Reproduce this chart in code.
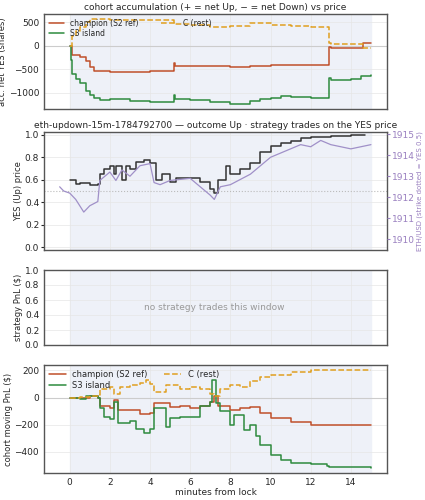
import numpy as np, pandas as pd, seaborn as sns, matplotlib
matplotlib.use("Agg")
import matplotlib.pyplot as plt

sns.set_style("white")
plt.rcParams['font.family'] = ['DejaVu Sans']
plt.rcParams['font.size'] = 6.5

# --- accumulation ---
acc_ch_t = [0,0.1,0.5,0.8,1,1.2,2,3,4,5.2,5.2,5.25,6,7,8,9,10,12.9,12.9,13,14,14.6,14.6,15]
acc_ch_v = [0,-200,-250,-330,-450,-530,-550,-560,-540,-520,-370,-430,-420,-430,-450,-420,-400,-380,-30,-40,-40,-30,50,50]
acc_s3_t = [0,0.05,0.1,0.3,0.5,0.8,1,1.2,1.5,2,3,4,5.2,5.2,5.25,6,7,8,8.5,9,9.5,10,10.5,11,12,12.9,12.9,13,14,14.5,15]
acc_s3_v = [0,-300,-600,-700,-800,-950,-1050,-1100,-1150,-1130,-1170,-1200,-1200,-1050,-1130,-1150,-1200,-1230,-1240,-1180,-1120,-1100,-1060,-1090,-1100,-1080,-680,-720,-700,-650,-630]
acc_c_t = [0,0.1,0.3,0.5,0.8,1,1.5,2,3,4,5.2,5.2,6,7,8,9,10,11,12,12.9,12.9,13,14,14.6,14.6,15]
acc_c_v = [0,200,300,400,500,560,570,550,550,540,520,450,430,400,420,470,440,420,400,400,50,40,40,30,-40,-50]

# --- price ---
yes_t = [0,0.3,0.5,1,1.4,1.5,1.7,2,2.2,2.3,2.6,2.8,3,3.3,3.7,4,4.3,4.6,5,5.3,6,6.5,7,7.2,7.4,7.8,8,8.5,9,9.5,10,10.5,11,11.5,12,13,14,14.7]
yes_v = [0.6,0.56,0.57,0.55,0.56,0.65,0.7,0.72,0.65,0.72,0.6,0.72,0.7,0.76,0.78,0.75,0.6,0.65,0.58,0.62,0.62,0.58,0.52,0.48,0.6,0.72,0.65,0.7,0.75,0.85,0.9,0.93,0.95,0.97,0.98,0.99,1.0,1.0]
eth_t = [-0.5,-0.3,0,0.3,0.7,1,1.4,1.5,2,2.3,2.6,3,3.5,4,4.2,4.5,5,6,6.5,7,7.2,7.5,8,9,9.5,10,11,11.5,12,12.5,13,13.5,14,14.5,15]
eth_v = [1912.5,1912.3,1912.2,1911.9,1911.3,1911.6,1911.8,1912.8,1913.2,1912.8,1913.3,1913.0,1913.5,1913.6,1912.7,1912.6,1912.8,1912.9,1912.5,1912.1,1911.9,1912.5,1912.6,1913.1,1913.5,1913.9,1914.3,1914.5,1914.4,1914.7,1914.5,1914.4,1914.3,1914.4,1914.5]

# --- pnl ---
pnl_ch_t = [0,0.5,1,1.4,1.5,2,2.2,2.4,3,3.5,4,4.2,5,5.5,6,6.5,7,7.2,7.4,8,8.5,9,9.5,10,11,12,15]
pnl_ch_v = [0,-5,10,0,-60,-80,-20,-90,-90,-120,-110,-40,-70,-60,-80,-60,-30,10,-60,-90,-80,-70,-110,-150,-180,-200,-205]
pnl_s3_t = [0,0.5,0.8,1.4,1.5,1.7,2,2.2,2.4,3,3.3,3.7,4,4.2,4.5,4.8,5,5.5,6,6.5,7,7.1,7.3,7.5,8,8.2,8.6,8.7,9,9.3,9.5,10,10.5,11,12,12.8,12.9,15]
pnl_s3_v = [0,-10,15,0,-80,-140,-160,-30,-190,-170,-230,-260,-230,-80,-80,-220,-150,-140,-140,-60,-30,130,-40,-100,-200,-130,-130,-240,-200,-280,-350,-420,-460,-480,-490,-500,-510,-520]
pnl_c_t = [0,0.5,1,1.4,1.5,2,2.2,2.5,3,3.5,3.8,4,4.2,4.8,5.5,6,6.5,7,7.2,7.5,8,8.5,9,9.5,10,11,12,15]
pnl_c_v = [0,5,10,20,60,80,30,80,90,110,130,100,40,90,60,80,60,30,10,60,90,80,120,150,170,190,200,205]

CH, S3, CC = "#c0502a", "#2e8b3e", "#e0a020"
fig = plt.figure(figsize=(4.25, 5.0), dpi=100)
L, W = 44/425, 343/425
def mk(top, bot):
    return fig.add_axes([L, 1-bot/500, W, (bot-top)/500])
a1, a2, a3, a4 = mk(14,109), mk(132,250), mk(270,345), mk(365,473)

def style(ax):
    ax.set_xlim(-1.28, 15.8)
    ax.axvspan(0, 15, color="#eef1f8", zorder=0)
    ax.grid(True, color="#e6e6e6", lw=0.5)
    for s in ax.spines.values():
        s.set_color("#555555"); s.set_linewidth(1)
    ax.tick_params(length=2, pad=1.5, labelsize=6.5)
    ax.set_xticks([0,2,4,6,8,10,12,14])

def step(ax, t, v, c, label=None, ls="-"):
    sns.lineplot(x=t, y=v, ax=ax, color=c, lw=1.1, ls=ls, drawstyle="steps-post", label=label, estimator=None, sort=False)

for ax in (a1, a2, a3, a4):
    style(ax)

a1.axhline(0, color="#cccccc", lw=0.8)
step(a1, acc_ch_t, acc_ch_v, CH, "champion (S2 ref)")
step(a1, acc_s3_t, acc_s3_v, S3, "S3 island")
step(a1, acc_c_t, acc_c_v, CC, "C (rest)", "--")
a1.set_title("cohort accumulation (+ = net Up, \u2212 = net Down) vs price", fontsize=6.5, pad=3)
a1.set_ylabel("acc. net YES (shares)", fontsize=6, labelpad=1)
a1.set_ylim(-1340, 670)
a1.set_yticks([-1000,-500,0,500])
a1.legend(loc="upper left", ncol=2, frameon=False, fontsize=5.5, handlelength=2, borderaxespad=0.2, labelspacing=0.2, columnspacing=3)
a1.set_xticklabels([])

a2.axhline(0.5, color="#bbbbbb", lw=0.8, ls=":")
step(a2, yes_t, yes_v, "#333333")
a2.set_ylim(-0.026, 1.026)
a2.set_yticks([0,0.2,0.4,0.6,0.8,1.0])
a2.set_ylabel("YES (Up) price", fontsize=6, labelpad=1)
a2.set_title("eth-updown-15m-1784792700 \u2014 outcome Up \u00b7 strategy trades on the YES price", fontsize=6.5, pad=3)
a2.set_xticklabels([])
tw = a2.twinx()
sns.lineplot(x=eth_t, y=eth_v, ax=tw, color="#a090c8", lw=0.9, estimator=None, sort=False)
tw.set_ylim(1909.5, 1915.1)
tw.set_yticks([1910,1911,1912,1913,1914,1915])
tw.tick_params(colors="#9a80c0", length=2, pad=1.5, labelsize=6.5)
tw.set_ylabel("ETH/USD (strike dotted = YES 0.5)", color="#9a80c0", fontsize=5, labelpad=1)
for s in tw.spines.values():
    s.set_visible(False)

a3.set_ylim(0, 1)
a3.set_yticks([0,0.2,0.4,0.6,0.8,1.0])
a3.set_ylabel("strategy PnL ($)", fontsize=6, labelpad=1)
a3.text(7.2, 0.5, "no strategy trades this window", ha="center", va="center", color="#999999", fontsize=6.5)
a3.set_xticklabels([])

a4.axhline(0, color="#cccccc", lw=0.8)
step(a4, pnl_ch_t, pnl_ch_v, CH, "champion (S2 ref)")
step(a4, pnl_s3_t, pnl_s3_v, S3, "S3 island")
step(a4, pnl_c_t, pnl_c_v, CC, "C (rest)", "--")
a4.set_ylim(-555, 240)
a4.set_yticks([-400,-200,0,200])
a4.set_ylabel("cohort moving PnL ($)", fontsize=6, labelpad=1)
a4.set_xlabel("minutes from lock", fontsize=6.5, labelpad=1)
a4.legend(loc="upper left", ncol=2, frameon=False, fontsize=6, handlelength=2, borderaxespad=0.2, labelspacing=0.2)

fig.savefig("out.png", dpi=100)
